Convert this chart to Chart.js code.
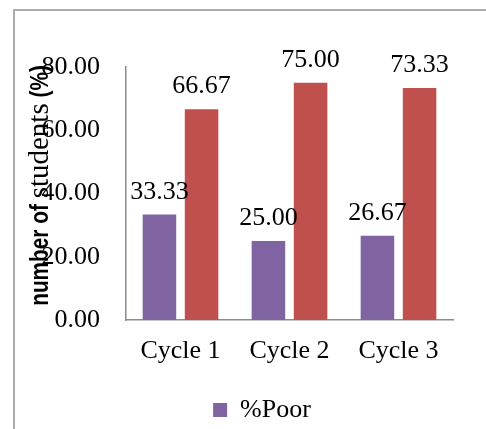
<!DOCTYPE html>
<html>
<head>
<meta charset="utf-8">
<script src="https://cdn.jsdelivr.net/npm/chart.js@4.4.1/dist/chart.umd.min.js"></script>
<style>
  html, body { margin: 0; padding: 0; background: #fff; overflow: hidden; width: 486px; height: 429px; }
  #frame { position: absolute; left: 13px; top: 9px; width: 520px; height: 470px; border: 2px solid #acacac; box-sizing: border-box; }
  #wrap { position: absolute; left: 0; top: 0; width: 486px; height: 460px; }
</style>
</head>
<body>
<div id="frame"></div>
<div id="wrap"><canvas id="chart" width="486" height="460"></canvas></div>
<script>
const categories = ['Cycle 1', 'Cycle 2', 'Cycle 3'];
const poorValues = [33.33, 25.00, 26.67];
const goodValues = [66.67, 75.00, 73.33];
const yTickValues = [0, 20, 40, 60, 80];

const serif = '"Liberation Serif", "Times New Roman", serif';
const sans = '"Liberation Sans", Arial, sans-serif';

// value labels above every bar
const valueLabels = {
  id: 'valueLabels',
  afterDatasetsDraw(chart) {
    const ctx = chart.ctx;
    ctx.save();
    ctx.font = '26px ' + serif;
    ctx.fillStyle = '#000';
    ctx.textAlign = 'center';
    ctx.textBaseline = 'alphabetic';
    chart.data.datasets.forEach((ds, i) => {
      chart.getDatasetMeta(i).data.forEach((bar, j) => {
        ctx.fillText(ds.data[j].toFixed(2), bar.x, bar.y - 16);
      });
    });
    ctx.restore();
  }
};

// rotated y-axis title mixing bold sans and serif runs
const yTitle = {
  id: 'yTitle',
  afterDraw(chart) {
    const ctx = chart.ctx;
    const area = chart.chartArea;
    const runs = [
      { text: 'number of ', font: 'bold 26px ' + sans, sx: 0.8 },
      { text: 'students', font: '29px ' + serif, sx: 1 },
      { text: ' (%)', font: 'bold 26px ' + sans, sx: 0.8 }
    ];
    ctx.save();
    let total = 0;
    runs.forEach(r => { ctx.font = r.font; r.w = ctx.measureText(r.text).width * r.sx; total += r.w; });
    const cy = (area.top + area.bottom) / 2 - 8;
    ctx.translate(48, cy);
    ctx.rotate(-Math.PI / 2);
    ctx.fillStyle = '#000';
    ctx.textBaseline = 'alphabetic';
    ctx.textAlign = 'left';
    let x = -total / 2;
    runs.forEach(r => {
      ctx.save();
      ctx.font = r.font;
      ctx.translate(x, 0);
      ctx.scale(r.sx, 1);
      ctx.fillText(r.text, 0, 0);
      ctx.restore();
      x += r.w;
    });
    ctx.restore();
  }
};

new Chart(document.getElementById('chart'), {
  type: 'bar',
  data: {
    labels: categories,
    datasets: [
      { label: '%Poor', data: poorValues, backgroundColor: '#8064A2', categoryPercentage: 0.773, barPercentage: 0.796 },
      { label: '%Good', data: goodValues, backgroundColor: '#C0504D', categoryPercentage: 0.773, barPercentage: 0.796 }
    ]
  },
  options: {
    responsive: false,
    devicePixelRatio: 1,
    animation: false,
    layout: { padding: { top: 67, left: 71, right: 33, bottom: 27 } },
    plugins: {
      tooltip: { enabled: false },
      legend: {
        position: 'bottom',
        labels: {
          boxWidth: 14,
          boxHeight: 14,
          padding: 10,
          color: '#000',
          font: { family: serif, size: 26 },
          filter: item => item.datasetIndex === 0
        }
      }
    },
    scales: {
      x: {
        grid: { display: false, drawTicks: false },
        border: { display: true, color: '#8c8c8c', width: 1.5 },
        ticks: { color: '#000', font: { family: serif, size: 26 }, padding: 16 },
        afterFit: s => { s.height = 67; }
      },
      y: {
        min: 0,
        max: 80,
        grid: { display: false, drawTicks: false },
        border: { display: true, color: '#8c8c8c', width: 1.5 },
        ticks: { color: '#000', font: { family: serif, size: 26 }, padding: 26, callback: v => Number(v).toFixed(2) },
        afterBuildTicks: s => { s.ticks = yTickValues.map(v => ({ value: v })); },
        afterFit: s => {
          s.width = 55;
          // tick labels reach past the narrow scale box; keep them unclipped
          s._computeLabelArea = () => undefined;
        }
      }
    }
  },
  plugins: [valueLabels, yTitle]
});
</script>
</body>
</html>
